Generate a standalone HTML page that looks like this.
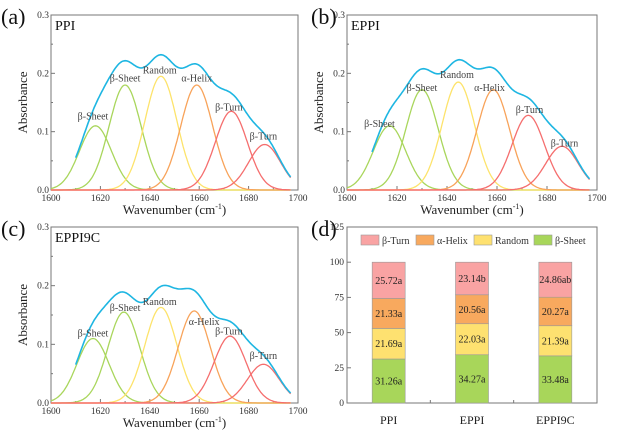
<!DOCTYPE html>
<html><head><meta charset="utf-8"><style>
html,body{margin:0;padding:0;background:#fff;}
svg{display:block;font-family:"Liberation Serif",serif;}
</style></head><body>
<svg id="s" width="638" height="434" xmlns="http://www.w3.org/2000/svg"></svg>
<script>
const S=document.getElementById('s');let h='';
const C={sh:'#a9d65c',rd:'#fde36b',ah:'#f8a35a',bt:'#f56e6e',env:'#1eb6e2'};
function spec(L,T,R,B,tag,tx,name,peaks,labs){
 const W=R-L,H=B-T;const X=v=>L+(v-1600)/100*W,Y=v=>B-v/0.3*H;const sg=6.5;
 h+=`<rect x="${L}" y="${T}" width="${W}" height="${H}" fill="none" stroke="#777" stroke-width="1"/>`;
 for(let i=0;i<=5;i++){let v=1600+i*20,x=X(v);h+=`<line x1="${x}" y1="${B}" x2="${x}" y2="${B-4}" stroke="#777"/><text x="${x}" y="${B+11}" font-size="9.5" text-anchor="middle" fill="#333">${v}</text>`;}
 for(let i=1;i<10;i+=2){let x=X(1600+i*10);h+=`<line x1="${x}" y1="${B}" x2="${x}" y2="${B-2}" stroke="#777"/>`;}
 for(let i=0;i<=3;i++){let v=i*0.1,y=Y(v);h+=`<line x1="${L}" y1="${y}" x2="${L+4}" y2="${y}" stroke="#777"/><text x="${L-2}" y="${y+3}" font-size="9.5" text-anchor="end" fill="#333">${v.toFixed(1)}</text>`;}
 for(let i=0;i<3;i++){let y=Y(i*0.1+0.05);h+=`<line x1="${L}" y1="${y}" x2="${L+2}" y2="${y}" stroke="#777"/>`;}
 const cols=[C.sh,C.sh,C.rd,C.ah,C.bt,C.bt];
 peaks.forEach((p,k)=>{let d='';for(let v=1600;v<=1697;v+=0.5){let a=p[1]*Math.exp(-((v-p[0])**2)/(2*sg*sg));d+=(d?'L':'M')+X(v).toFixed(1)+','+Y(a).toFixed(1);}h+=`<path d="${d}" fill="none" stroke="${cols[k]}" stroke-width="1.3"/>`;});
 let d='';for(let v=1610;v<=1697;v+=0.5){let a=0.007*Math.exp(-((v-1648)**2)/(2*25*25));peaks.forEach(p=>a+=p[1]*Math.exp(-((v-p[0])**2)/(2*sg*sg)));d+=(d?'L':'M')+X(v).toFixed(1)+','+Y(a).toFixed(1);}
 h+=`<path d="${d}" fill="none" stroke="${C.env}" stroke-width="1.6"/>`;
 const nm=['β-Sheet','β-Sheet','Random','α-Helix','β-Turn','β-Turn'];
 labs.forEach((l,k)=>{h+=`<text x="${X(l[0])}" y="${Y(l[1])}" font-size="10" text-anchor="middle" fill="#444">${nm[k]}</text>`;});
 h+=`<text x="${L+4}" y="${T+15}" font-size="14" fill="#111">${name}</text>`;
 h+=`<text x="${tx}" y="${T+9}" font-size="22" fill="#111">${tag}</text>`;
 h+=`<text transform="translate(${L-24},${(T+B)/2}) rotate(-90)" font-size="13" text-anchor="middle" fill="#222">Absorbance</text>`;
 h+=`<text x="${(L+R)/2}" y="${B+24}" font-size="13" text-anchor="middle" fill="#222">Wavenumber (cm<tspan font-size="8" dy="-5">-1</tspan><tspan dy="5">)</tspan></text>`;
}
spec(51,15,298,190,'(a)',1,'PPI',[[1618,0.11],[1630,0.18],[1644.5,0.195],[1659,0.18],[1673,0.135],[1686.5,0.078]],[[1617,0.121],[1630,0.186],[1644,0.2],[1659,0.186],[1672,0.136],[1686,0.087]]);
spec(347,15,597,190,'(b)',311,'EPPI',[[1617,0.11],[1630,0.172],[1644.5,0.185],[1658.5,0.172],[1672.5,0.128],[1686,0.075]],[[1613,0.108],[1630,0.17],[1644,0.192],[1657,0.17],[1673,0.132],[1687,0.075]]);
spec(51,227,298,403,'(c)',1,'EPPI9C',[[1617,0.11],[1629.5,0.155],[1644.5,0.163],[1658,0.157],[1672.5,0.114],[1686,0.066]],[[1617,0.113],[1630,0.157],[1644,0.167],[1662,0.133],[1672,0.117],[1686,0.075]]);
(function(){const L=347,T=227,R=597,B=403,W=R-L,H=B-T;const Y=v=>B-v/125*H;
 h+=`<rect x="${L}" y="${T}" width="${W}" height="${H}" fill="none" stroke="#777"/>`;
 h+=`<text x="311" y="236" font-size="22" fill="#111">(d)</text>`;
 for(let i=0;i<=5;i++){let v=i*25,y=Y(v);h+=`<line x1="${L}" y1="${y}" x2="${L+4}" y2="${y}" stroke="#777"/><text x="${L-3}" y="${y+3}" font-size="9.5" text-anchor="end" fill="#333">${v}</text>`;}
 const data=[['PPI',[31.26,21.69,21.33,25.72],['31.26a','21.69a','21.33a','25.72a']],['EPPI',[34.27,22.03,20.56,23.14],['34.27a','22.03a','20.56a','23.14b']],['EPPI9C',[33.48,21.39,20.27,24.86],['33.48a','21.39a','20.27a','24.86ab']]];
 const cs=['#a8d65a','#fee170','#f8a95e','#f9a3a3'];
 data.forEach((d,i)=>{let cx=L+(i+0.5)*W/3,bw=33,acc=0;
  h+=`<line x1="${cx}" y1="${B}" x2="${cx}" y2="${B-3}" stroke="#777"/>`;
  if(i<2)h+=`<line x1="${L+(i+1)*W/3}" y1="${B}" x2="${L+(i+1)*W/3}" y2="${B-3}" stroke="#777"/>`;
  d[1].forEach((v,k)=>{let y0=Y(acc),y1=Y(acc+v);h+=`<rect x="${cx-bw/2}" y="${y1}" width="${bw}" height="${y0-y1}" fill="${cs[k]}" stroke="#999" stroke-width="0.6"/><text x="${cx}" y="${(y0+y1)/2+3.5}" font-size="10" text-anchor="middle" fill="#222">${d[2][k]}</text>`;acc+=v;});
  h+=`<text x="${cx}" y="${B+21}" font-size="12" text-anchor="middle" fill="#222">${d[0]}</text>`;});
 const lg=[['β-Turn',cs[3],361],['α-Helix',cs[2],416],['Random',cs[1],474],['β-Sheet',cs[0],534]];
 lg.forEach(l=>{h+=`<rect x="${l[2]}" y="235" width="18" height="10" fill="${l[1]}" stroke="#999" stroke-width="0.6"/><text x="${l[2]+21}" y="244" font-size="10" fill="#333">${l[0]}</text>`;});
})();
S.innerHTML=h;
</script>
</body></html>
